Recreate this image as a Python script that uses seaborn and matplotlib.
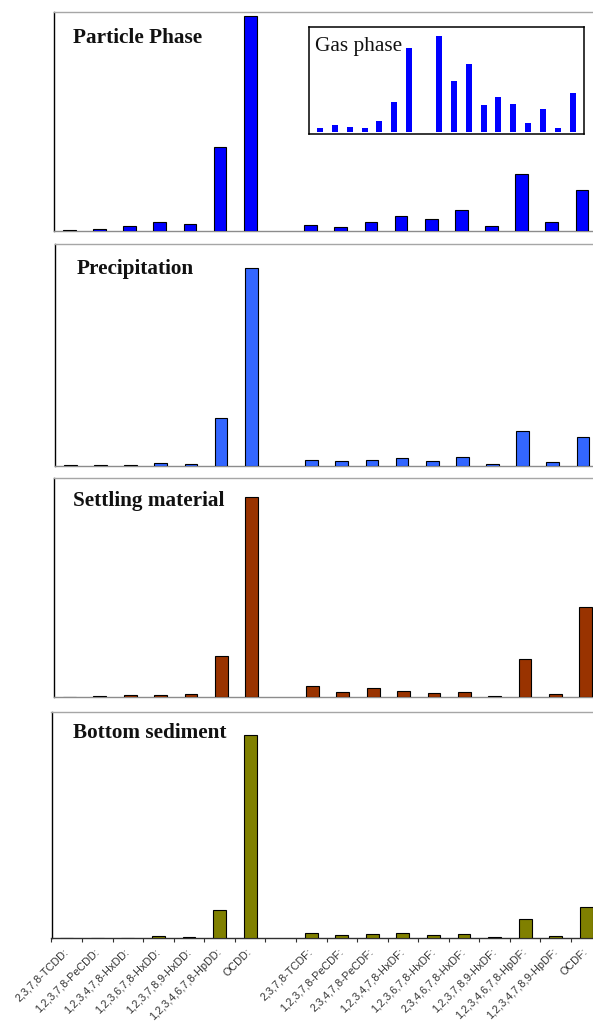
import numpy as np
import pandas as pd
import matplotlib
matplotlib.use("Agg")
import matplotlib.pyplot as plt
import seaborn as sns

# ---------------- data (relative units, OCDD = 100 in each deposit panel) ----------------
congeners = ["2,3,7,8-TCDD:", "1,2,3,7,8-PeCDD:", "1,2,3,4,7,8-HxDD:", "1,2,3,6,7,8-HxDD:",
             "1,2,3,7,8,9-HxDD:", "1,2,3,4,6,7,8-HpDD:", "OCDD:",
             "2,3,7,8-TCDF:", "1,2,3,7,8-PeCDF:", "2,3,4,7,8-PeCDF:", "1,2,3,4,7,8-HxDF:",
             "1,2,3,6,7,8-HxDF:", "2,3,4,6,7,8-HxDF:", "1,2,3,7,8,9-HxDF:",
             "1,2,3,4,6,7,8-HpDF:", "1,2,3,4,7,8,9-HpDF:", "OCDF:"]
gap_label = " "
order = congeners[:7] + [gap_label] + congeners[7:]

particle = [0.3, 0.8, 2.0, 3.9, 3.0, 38.9, 100, 2.5, 1.7, 4.2, 6.7, 5.6, 9.5, 2.0, 26.2, 4.2, 19.1]
gas = [3.4, 6.6, 5.2, 3.9, 11.2, 30.6, 87.0, 100, 53.3, 70.3, 28.2, 35.8, 28.5, 8.7, 24.0, 3.4, 40.0]
precipitation = [0.5, 0.5, 0.7, 1.7, 1.2, 24.1, 100, 3.0, 2.7, 3.2, 3.9, 2.7, 4.7, 1.2, 17.5, 2.0, 14.8]
settling = [0.3, 0.8, 1.0, 1.3, 1.7, 20.7, 100, 5.5, 2.6, 4.5, 3.1, 2.3, 2.8, 0.8, 19.2, 1.5, 44.9]
sediment = [0.1, 0.3, 0.3, 1.0, 0.7, 14.1, 100, 2.8, 1.8, 2.3, 2.6, 1.5, 2.3, 0.7, 9.7, 1.3, 15.6]

titles = ["Particle Phase", "Precipitation", "Settling material", "Bottom sediment"]
colors = ["#0000FF", "#3366FF", "#993300", "#808000"]
series = [particle, precipitation, settling, sediment]

# ---------------- style ----------------
sns.set_style("white")
plt.rcParams["font.family"] = ["Liberation Sans", "DejaVu Sans"]

W, H = 593, 1021
fig = plt.figure(figsize=(W / 100, H / 100), dpi=100)


def px_axes(left, right, top, bottom):
    return [left / W, 1 - bottom / H, (right - left) / W, (bottom - top) / H]


panel_px = [(54.3, 597, 12.3, 230.7),
            (55.3, 598, 244.3, 466.0),
            (54.3, 601, 478.3, 697.3),
            (51.5, 601.5, 711.7, 938.3)]
ytops = [101.6, 112.1, 109.1, 111.7]
title_px = [(72.7, 42.7), (76.7, 274.3), (73.3, 506.0), (73.3, 738.3)]

for i in range(4):
    ax = fig.add_axes(px_axes(*panel_px[i]))
    df = pd.DataFrame({"congener": congeners, "value": series[i]})
    sns.barplot(data=df, x="congener", y="value", order=order, color=colors[i],
                width=0.42, edgecolor="black", linewidth=0.8, saturation=1,
                ax=ax, zorder=3)
    ax.set_xlim(-0.5, 17.5)
    ax.set_ylim(0, ytops[i])
    ax.set_xlabel("")
    ax.set_ylabel("")
    ax.set_yticks([])
    for s in ["left"]:
        ax.spines[s].set_color("black")
        ax.spines[s].set_linewidth(1.0)
    ax.spines["top"].set_color("#a6a6a6")
    ax.spines["top"].set_linewidth(1.0)
    ax.spines["right"].set_visible(False)
    ax.spines["bottom"].set_color("#8c8c8c" if i < 3 else "#303030")
    ax.spines["bottom"].set_linewidth(1.0)

    if i < 3:
        ax.set_xticks([])
    else:
        ax.set_xticks(range(len(order)))
        ax.set_xticklabels(order, rotation=45, ha="right", va="center",
                           rotation_mode="anchor", fontsize=7.8, color="#333333")
        ax.set_xticks(np.arange(-0.5, 17.0, 1.0), minor=True)
        ax.tick_params(axis="x", which="major", length=0, pad=8.5)
        ax.tick_params(axis="x", which="minor", length=2.6, width=0.8,
                       color="#303030", direction="out", bottom=True)

    tx, ty = title_px[i]
    fig.text(tx / W, 1 - ty / H, titles[i], fontsize=15.3, fontweight="bold",
             family=["Liberation Serif", "DejaVu Serif"], ha="left", va="baseline",
             color="#111111")

# ---------------- gas phase inset ----------------
axi = fig.add_axes(px_axes(309, 583.7, 26.7, 134.3))
dfg = pd.DataFrame({"congener": congeners, "value": gas})
sns.barplot(data=dfg, x="congener", y="value", order=order, color="#0000FF",
            width=0.4, linewidth=0, saturation=1, ax=axi)
axi.set_xlim(-0.735, 17.735)
axi.set_ylim(-2.7, 109.7)
axi.set_xticks([])
axi.set_yticks([])
axi.set_xlabel("")
axi.set_ylabel("")
axi.set_facecolor("white")
for s in axi.spines.values():
    s.set_visible(True)
    s.set_color("black")
    s.set_linewidth(1.1)
fig.text(315 / W, 1 - 50.7 / H, "Gas phase", fontsize=15.3,
         family=["Liberation Serif", "DejaVu Serif"], ha="left", va="baseline",
         color="#111111")

fig.savefig("out.png", dpi=100)
